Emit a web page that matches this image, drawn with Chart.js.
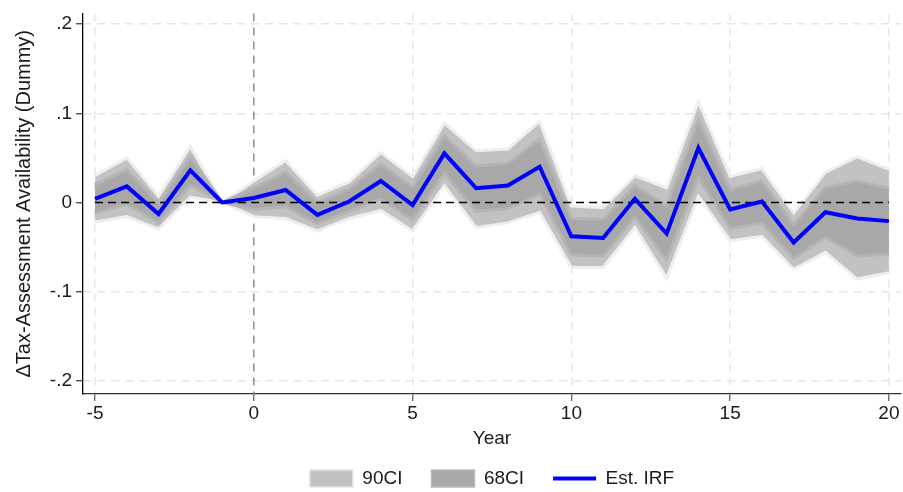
<!DOCTYPE html>
<html>
<head>
<meta charset="utf-8">
<script src="https://cdn.jsdelivr.net/npm/chart.js@4.4.1/dist/chart.umd.min.js"></script>
<style>
  html, body { margin: 0; padding: 0; background: #ffffff; }
  #wrap { width: 903px; height: 492px; }
</style>
</head>
<body>
<div id="wrap"><canvas id="irf"></canvas></div>
<script>
// Event-time horizon (years relative to the event)
const years = [-5, -4, -3, -2, -1, 0, 1, 2, 3, 4, 5, 6, 7, 8, 9, 10, 11, 12, 13, 14, 15, 16, 17, 18, 19, 20];

// Estimated impulse response
const irf = [0.004, 0.018, -0.013, 0.036, 0.000, 0.005, 0.014, -0.014, 0.001, 0.024, -0.003, 0.055, 0.016,
             0.019, 0.040, -0.038, -0.040, 0.004, -0.035, 0.061, -0.008, 0.001, -0.045, -0.011, -0.018, -0.021];

// 90% confidence band
const ci90Low  = [-0.022, -0.016, -0.030, 0.006, 0.000, -0.016, -0.018, -0.032, -0.018, -0.009, -0.032, 0.019, -0.028,
                  -0.023, -0.011, -0.073, -0.073, -0.028, -0.085, 0.007, -0.043, -0.038, -0.075, -0.056, -0.086, -0.079];
const ci90High = [0.030, 0.050, 0.007, 0.063, 0.000, 0.024, 0.047, 0.008, 0.023, 0.056, 0.029, 0.089, 0.058,
                  0.060, 0.091, -0.004, -0.006, 0.030, 0.016, 0.113, 0.029, 0.038, -0.012, 0.034, 0.051, 0.037];

// 68% confidence band
const ci68Low  = [-0.012, -0.002, -0.023, 0.019, 0.000, -0.008, -0.005, -0.024, -0.010, 0.004, -0.020, 0.033, -0.010,
                  -0.007, 0.009, -0.059, -0.060, -0.016, -0.065, 0.028, -0.029, -0.023, -0.063, -0.039, -0.060, -0.058];
const ci68High = [0.020, 0.037, -0.001, 0.052, 0.000, 0.016, 0.034, 0.000, 0.015, 0.043, 0.017, 0.075, 0.041,
                  0.044, 0.071, -0.018, -0.019, 0.019, -0.004, 0.093, 0.014, 0.024, -0.025, 0.017, 0.024, 0.016];

// Axis ticks
const xTicks = [-5, 0, 5, 10, 15, 20];
const yTicks = [-0.2, -0.1, 0, 0.1, 0.2];
const yTickLabels = ['-.2', '-.1', '0', '.1', '.2'];

// Reference line at zero across the horizon
const zeroLine = [{ x: years[0], y: 0 }, { x: years[years.length - 1], y: 0 }];

const pts = (vals) => years.map((yr, i) => ({ x: yr, y: vals[i] }));

const FONT = "'Liberation Sans', Arial, sans-serif";
const TEXT = '#1a1a1a';

// Dashed vertical marker at the event year, drawn beneath the bands
const eventLine = {
  id: 'eventLine',
  beforeDatasetsDraw(chart) {
    const { ctx, chartArea, scales } = chart;
    const px = scales.x.getPixelForValue(0);
    ctx.save();
    ctx.strokeStyle = '#8c8c8c';
    ctx.lineWidth = 1.5;
    ctx.setLineDash([8, 6]);
    ctx.beginPath();
    ctx.moveTo(px, chartArea.top);
    ctx.lineTo(px, chartArea.bottom);
    ctx.stroke();
    ctx.restore();
  }
};

new Chart(document.getElementById('irf'), {
  type: 'line',
  data: {
    datasets: [
      { label: 'Est. IRF', data: pts(irf), borderColor: '#0000ff', borderWidth: 4,
        pointRadius: 0, tension: 0, fill: false },
      { label: 'zero', data: zeroLine, borderColor: '#000000', borderWidth: 1.5,
        borderDash: [8, 5], pointRadius: 0, fill: false },
      { label: '68CI upper', data: pts(ci68High), borderColor: '#b4b4b4', borderWidth: 3,
        pointRadius: 0, tension: 0, fill: false },
      { label: '68CI', data: pts(ci68Low), borderColor: '#b4b4b4', borderWidth: 3,
        backgroundColor: '#a8a8a8', pointRadius: 0, tension: 0, fill: '-1' },
      { label: '90CI upper', data: pts(ci90High), borderColor: '#eeeeee', borderWidth: 3,
        pointRadius: 0, tension: 0, fill: false },
      { label: '90CI', data: pts(ci90Low), borderColor: '#eeeeee', borderWidth: 3,
        backgroundColor: '#c2c2c2', pointRadius: 0, tension: 0, fill: '-1' }
    ]
  },
  options: {
    responsive: true,
    maintainAspectRatio: false,
    animation: false,
    layout: { padding: { top: 10, right: 2, left: 0, bottom: 0 } },
    scales: {
      x: {
        type: 'linear',
        min: -5.38,
        max: 20.38,
        afterBuildTicks: (s) => { s.ticks = xTicks.map(v => ({ value: v })); },
        afterFit: (s) => { s.height = 46; },
        ticks: { color: TEXT, font: { family: FONT, size: 19 }, padding: 1,
                 maxRotation: 0, callback: (v) => String(v) },
        grid: {
          color: (c) => (c.tick && c.tick.value === 0 ? 'rgba(0,0,0,0)' : '#e6e6e6'),
          lineWidth: 1.5,
          tickLength: 7,
          tickColor: '#555555',
          tickWidth: 1.2
        },
        border: { display: true, color: '#333333', width: 1.3, dash: [8, 6] },
        title: { display: true, text: 'Year', color: TEXT,
                 font: { family: FONT, size: 19 }, padding: { top: 0, bottom: -10 } }
      },
      y: {
        min: -0.215,
        max: 0.212,
        afterBuildTicks: (s) => { s.ticks = yTicks.map(v => ({ value: v })); },
        afterFit: (s) => { s.width = 83; },
        ticks: { color: TEXT, font: { family: FONT, size: 19, lineHeight: 1 }, padding: 4,
                 callback: (v) => { const i = yTicks.findIndex(t => Math.abs(t - v) < 1e-9); return i >= 0 ? yTickLabels[i] : ''; } },
        grid: {
          color: (c) => (c.tick && Math.abs(c.tick.value) < 1e-9 ? 'rgba(0,0,0,0)' : '#e6e6e6'),
          lineWidth: 1.5,
          tickLength: 7,
          tickColor: '#333333',
          tickWidth: 1.2
        },
        border: { display: true, color: '#000000', width: 1.3, dash: [8, 6] },
        title: { display: true, text: 'ΔTax-Assessment Availability (Dummy)', color: TEXT,
                 font: { family: FONT, size: 20 }, padding: { top: 12, bottom: 0 } }
      }
    },
    plugins: {
      tooltip: { enabled: false },
      legend: {
        position: 'bottom',
        fullSize: false,
        maxHeight: 52,
        labels: {
          usePointStyle: true,
          pointStyleWidth: 43,
          boxHeight: 17,
          padding: 29,
          color: TEXT,
          font: { family: FONT, size: 19 },
          generateLabels: () => [
            { text: '90CI', fillStyle: '#c2c2c2', strokeStyle: '#e4e4e4', lineWidth: 1.5,
              pointStyle: 'rect', fontColor: TEXT, datasetIndex: 5, hidden: false },
            { text: '68CI', fillStyle: '#a8a8a8', strokeStyle: '#bababa', lineWidth: 1.5,
              pointStyle: 'rect', fontColor: TEXT, datasetIndex: 3, hidden: false },
            { text: 'Est. IRF', fillStyle: '#0000ff', strokeStyle: '#0000ff', lineWidth: 4,
              pointStyle: 'line', fontColor: TEXT, datasetIndex: 0, hidden: false }
          ]
        }
      }
    }
  },
  plugins: [eventLine]
});
</script>
</body>
</html>
